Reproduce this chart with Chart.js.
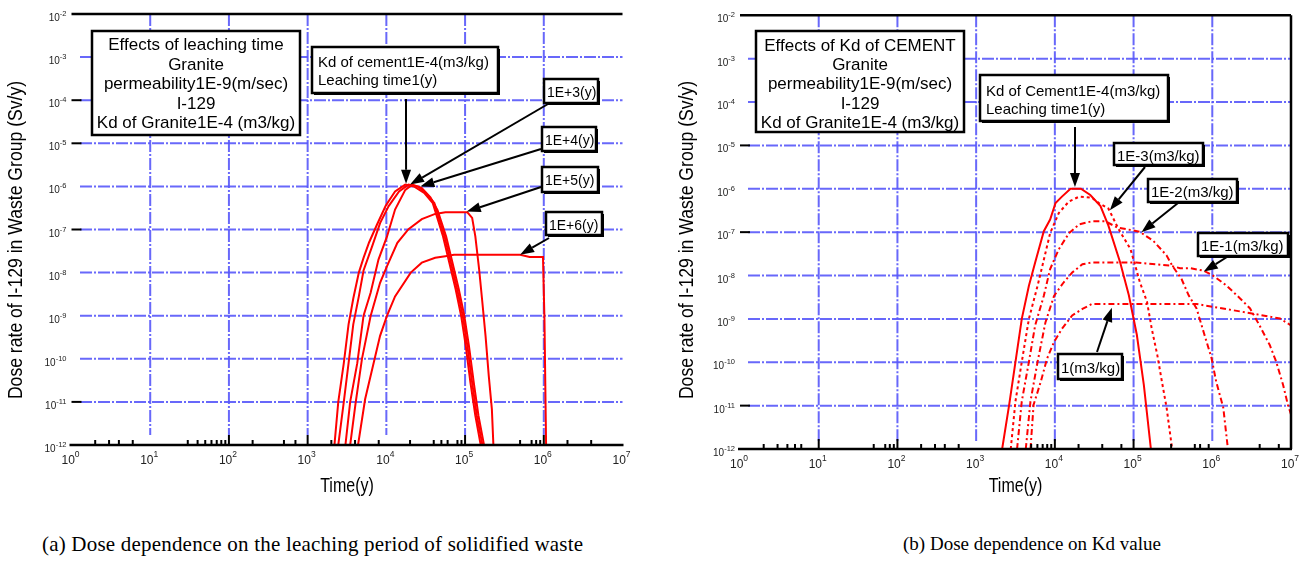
<!DOCTYPE html>
<html>
<head>
<meta charset="utf-8">
<title>Dose rate of I-129</title>
<script src="https://cdn.jsdelivr.net/npm/chart.js@4.4.0/dist/chart.umd.min.js"></script>
<style>
  body { margin: 0; background: #fff; width: 1301px; height: 563px; position: relative; overflow: hidden; }
  canvas { position: absolute; left: 0; top: 0; }
  .cap { position: absolute; top: 532px; font-family: 'Liberation Serif', 'Times New Roman', serif; color: #000; white-space: nowrap; }
</style>
</head>
<body>
<canvas id="chartA" width="1301" height="515"></canvas>
<canvas id="chartB" width="1301" height="515"></canvas>
<div class="cap" style="left:42px; font-size:21px; letter-spacing:0.2px">(a) Dose dependence on the leaching period of solidified waste</div>
<div class="cap" style="left:903px; font-size:19px; top:533px">(b) Dose dependence on Kd value</div>
<script>
  // ---- (a) leaching time, t in years, dose in Sv/y
  const leach1Time = [2190, 2450, 2880, 3310, 3800, 4470, 5130, 6030, 7590, 9770, 12900, 17400, 22400, 30200, 38900, 52500, 63100, 75900, 89100, 102000, 117000, 135000, 158000];
  const leach1Dose = [1e-12, 1e-11, 7.9e-11, 6.3e-10, 2.5e-9, 1.0e-8, 2.2e-8, 5.0e-8, 1.29e-7, 3.5e-7, 7.6e-7, 1.1e-6, 1.0e-6, 7.1e-7, 4.1e-7, 6.9e-8, 1.7e-8, 4.1e-9, 1.0e-9, 2.0e-10, 2.8e-11, 4.8e-12, 1e-12];

  const leach1e3Time = [2450, 2880, 3310, 3800, 4470, 5130, 6610, 8320, 10700, 14500, 19100, 25100, 31600, 40700, 55000, 66100, 79400, 93300, 107000, 123000, 141000, 166000];
  const leach1e3Dose = [1e-12, 1e-11, 7.9e-11, 6.3e-10, 2.8e-9, 1.12e-8, 4.1e-8, 1.41e-7, 3.5e-7, 7.6e-7, 1.1e-6, 1.0e-6, 7.1e-7, 4.1e-7, 6.9e-8, 1.7e-8, 4.1e-9, 1.0e-9, 2.0e-10, 2.8e-11, 4.8e-12, 1e-12];

  const leach1e4Time = [3020, 3470, 4270, 5130, 6310, 7940, 10200, 12900, 17400, 21400, 28200, 36300, 44700, 57500, 69200, 83200, 97700, 112000, 129000, 148000, 174000];
  const leach1e4Dose = [1e-12, 1e-11, 7.9e-11, 1.0e-9, 3.4e-9, 2.0e-8, 6.9e-8, 2.9e-7, 8.3e-7, 1.1e-6, 9.1e-7, 5.6e-7, 2.8e-7, 6.9e-8, 1.7e-8, 4.1e-9, 1.0e-9, 2.0e-10, 2.8e-11, 4.8e-12, 1e-12];

  const leach1e5Time = [3470, 4070, 4900, 6310, 8320, 10200, 13800, 19100, 28200, 41700, 56200, 107000, 123000, 135000, 151000, 166000, 182000, 200000, 219000, 229000];
  const leach1e5Dose = [1e-12, 9.5e-12, 1.0e-10, 9.8e-10, 5.8e-9, 1.41e-8, 4.9e-8, 1.02e-7, 1.74e-7, 2.3e-7, 2.5e-7, 2.5e-7, 1.86e-7, 6.9e-8, 1.17e-8, 2.0e-9, 3.4e-10, 4.0e-11, 6.8e-12, 1e-12];

  const leach1e6Time = [4370, 5370, 8320, 10200, 12900, 20400, 28200, 41700, 56200, 72400, 501000, 661000, 977000, 1020000, 1070000];
  const leach1e6Dose = [1e-12, 1.15e-11, 3.4e-10, 1.0e-9, 2.8e-9, 1.0e-8, 1.7e-8, 2.2e-8, 2.4e-8, 2.6e-8, 2.6e-8, 2.3e-8, 2.3e-8, 8.1e-10, 1e-12];

  // ---- (b) Kd of cement (m3/kg)
  const kd1e4Time = [2140, 2630, 3160, 3800, 4680, 5620, 7240, 8710, 10200, 12300, 15800, 21400, 28200, 38000, 47900, 67600, 87100, 110000, 135000, 166000];
  const kd1e4Dose = [1e-12, 1.05e-11, 1.02e-10, 1.0e-9, 5.8e-9, 2.0e-8, 1.05e-7, 1.95e-7, 4.7e-7, 6.6e-7, 1.0e-6, 1.0e-6, 7.2e-7, 4.0e-7, 1.41e-7, 2.0e-8, 3.5e-9, 4.3e-10, 3.0e-11, 1e-12];

  const kd1e3Time = [2750, 3160, 3800, 4680, 6030, 7240, 8710, 11200, 15100, 20400, 29500, 36300, 47900, 64600, 91200, 105000, 120000, 148000, 170000, 200000, 229000, 263000, 309000];
  const kd1e3Dose = [1e-12, 1.26e-11, 1.02e-10, 1.0e-9, 5.8e-9, 2.3e-8, 9.5e-8, 2.75e-7, 5.1e-7, 6.6e-7, 6.2e-7, 4.7e-7, 3.5e-7, 1.17e-7, 4.1e-8, 1.7e-8, 7.1e-9, 2.5e-9, 6.0e-10, 1.48e-10, 3.6e-11, 8.9e-12, 1e-12];

  const kd1e2Time = [3310, 3800, 4680, 5620, 7240, 8710, 11200, 15100, 20400, 29500, 43700, 61700, 120000, 178000, 263000, 309000, 407000, 501000, 631000, 776000, 977000, 1120000, 1380000, 1580000];
  const kd1e2Dose = [1e-12, 1.26e-11, 1.02e-10, 7.1e-10, 3.4e-9, 1.41e-8, 4.0e-8, 9.5e-8, 1.51e-7, 1.78e-7, 1.78e-7, 1.29e-7, 1.02e-7, 6.3e-8, 2.9e-8, 1.7e-8, 8.3e-9, 3.5e-9, 1.74e-9, 5.0e-10, 1.26e-10, 3.6e-11, 8.9e-12, 1e-12];

  const kd1e1Time = [4270, 4900, 6030, 7590, 9770, 12900, 16600, 22400, 29500, 43700, 107000, 288000, 389000, 525000, 776000, 1020000, 1510000, 2240000, 3020000, 3980000, 5370000, 6460000, 7940000, 9120000, 10000000];
  const kd1e1Dose = [1e-12, 1.26e-11, 1.02e-10, 8.3e-10, 3.4e-9, 6.9e-9, 1.17e-8, 1.82e-8, 2.0e-8, 2.0e-8, 2.0e-8, 1.7e-8, 1.48e-8, 1.48e-8, 1.29e-8, 1.0e-8, 5.9e-9, 3.0e-9, 1.74e-9, 7.1e-10, 2.5e-10, 1.05e-10, 3.0e-11, 1.05e-11, 6.3e-12];

  const kd1Time = [4900, 5370, 6610, 7940, 9770, 12300, 16600, 22400, 29500, 631000, 3310000, 7240000, 10000000];
  const kd1Dose = [1e-12, 1.05e-11, 3.5e-11, 1.2e-10, 2.95e-10, 5.9e-10, 1.2e-9, 1.7e-9, 2.2e-9, 2.2e-9, 1.32e-9, 1.02e-9, 7.1e-10];

  // axis ticks
  const decadesX = [1, 10, 100, 1e3, 1e4, 1e5, 1e6, 1e7];
  const decadesY = [1e-2, 1e-3, 1e-4, 1e-5, 1e-6, 1e-7, 1e-8, 1e-9, 1e-10, 1e-11, 1e-12];
  const minorTicksA = [2, 3, 4, 6, 30, 40, 50, 60, 70, 80, 90, 200, 500, 700, 2000, 4000, 8000, 2e4, 4e4, 5e4, 6e4, 8e4, 9e4, 5e5, 7e5, 8e5, 9e5, 2e6, 4e6];
  const minorTicksB = [2, 3, 4, 5, 6, 50, 70, 80, 90, 200, 300, 400, 600, 5000, 6000, 7000, 8000, 9000, 2e4, 4e4, 7e4, 3e5, 6e5, 7e5, 9e5, 4e6, 7e6];

  const FONT = "'Liberation Sans', Arial, sans-serif";
  const RED = '#ff0000';
  const GRID = 'rgba(88,88,250,0.9)';

  function pts(ts, ds) {
    return ts.map((t, i) => ({ x: t, y: ds[i] }));
  }

  function series(ts, ds, dash) {
    return { data: pts(ts, ds), borderColor: RED, borderWidth: 2, borderDash: dash || [], pointRadius: 0, fill: false, tension: 0 };
  }

  function drawBox(ctx, b) {
    const [x, y, w, h] = b.box;
    if (b.shadow) {
      ctx.fillStyle = '#000';
      ctx.fillRect(x + b.shadow, y + b.shadow, w, h);
    }
    ctx.fillStyle = '#fff';
    ctx.fillRect(x, y, w, h);
    ctx.strokeStyle = '#000';
    ctx.lineWidth = 2.5;
    ctx.setLineDash([]);
    ctx.strokeRect(x, y, w, h);
    ctx.fillStyle = '#000';
    ctx.font = b.size + 'px ' + FONT;
    ctx.textAlign = b.align || 'left';
    ctx.textBaseline = 'alphabetic';
    b.lines.forEach((s, i) => ctx.fillText(s, b.tx, b.ty + i * b.step));
  }

  function drawArrow(ctx, x0, y0, x1, y1) {
    const a = Math.atan2(y1 - y0, x1 - x0), len = 14, w = 5;
    const bx = x1 - len * Math.cos(a), by = y1 - len * Math.sin(a);
    ctx.strokeStyle = '#000';
    ctx.fillStyle = '#000';
    ctx.lineWidth = 2;
    ctx.setLineDash([]);
    ctx.beginPath();
    ctx.moveTo(x0, y0);
    ctx.lineTo(bx, by);
    ctx.stroke();
    ctx.beginPath();
    ctx.moveTo(x1, y1);
    ctx.lineTo(bx - w * Math.sin(a), by + w * Math.cos(a));
    ctx.lineTo(bx + w * Math.sin(a), by - w * Math.cos(a));
    ctx.closePath();
    ctx.fill();
  }

  // "10" with a raised exponent
  function powLabel(ctx, x, y, v, baseSize, supSize, align, dy) {
    const e = String(Math.round(Math.log10(v)));
    ctx.font = baseSize + 'px ' + FONT;
    const w1 = ctx.measureText('10').width;
    ctx.font = supSize + 'px ' + FONT;
    const w2 = ctx.measureText(e).width;
    const x0 = align === 'right' ? x - w1 - w2 : x - (w1 + w2) / 2;
    ctx.textAlign = 'left';
    ctx.textBaseline = 'alphabetic';
    ctx.fillStyle = '#222';
    ctx.font = baseSize + 'px ' + FONT;
    ctx.fillText('10', x0, y);
    ctx.font = supSize + 'px ' + FONT;
    ctx.fillText(e, x0 + w1, y - dy);
  }

  function framePlugin(f) {
    return {
      id: 'frame',
      beforeDatasetsDraw(chart) {
        const { ctx, chartArea: a, scales: { x, y } } = chart;
        ctx.save();
        ctx.strokeStyle = GRID;
        ctx.lineWidth = 2;
        ctx.setLineDash([12, 2, 2, 2]);
        decadesY.slice(1, -1).forEach(v => {
          const py = y.getPixelForValue(v);
          ctx.beginPath(); ctx.moveTo(f.gridStart, py); ctx.lineTo(a.right, py); ctx.stroke();
        });
        decadesX.slice(1, -1).forEach(v => {
          const px = x.getPixelForValue(v);
          ctx.beginPath(); ctx.moveTo(px, a.top); ctx.lineTo(px, f.gridEnd); ctx.stroke();
        });
        ctx.restore();
      },
      afterDatasetsDraw(chart) {
        const { ctx, chartArea: a, scales: { x, y } } = chart;
        ctx.save();
        ctx.setLineDash([]);
        ctx.strokeStyle = '#000';
        ctx.lineWidth = 2.5;
        // frame lines
        ctx.beginPath(); ctx.moveTo(a.left, a.top); ctx.lineTo(a.right, a.top); ctx.stroke();
        ctx.beginPath(); ctx.moveTo(a.left - 2, a.bottom); ctx.lineTo(a.right + 1, a.bottom); ctx.stroke();
        if (f.rightBorder) {
          ctx.beginPath(); ctx.moveTo(a.right, a.top); ctx.lineTo(a.right, a.bottom); ctx.stroke();
        }
        ctx.lineWidth = 2;
        f.blackY.forEach(v => {
          const py = y.getPixelForValue(v);
          ctx.beginPath(); ctx.moveTo(a.left, py); ctx.lineTo(a.left + 10, py); ctx.stroke();
        });
        f.majorX.forEach(v => {
          const px = x.getPixelForValue(v);
          ctx.beginPath(); ctx.moveTo(px, a.bottom); ctx.lineTo(px, a.bottom - 10); ctx.stroke();
        });
        f.minorX.forEach(v => {
          const px = x.getPixelForValue(v);
          ctx.beginPath(); ctx.moveTo(px, a.bottom); ctx.lineTo(px, a.bottom - 5); ctx.stroke();
        });
        // tick labels
        decadesY.forEach(v => powLabel(ctx, a.left - 5, y.getPixelForValue(v) + 7, v, 10, 7.5, 'right', 5));
        decadesX.forEach(v => powLabel(ctx, x.getPixelForValue(v) - 1, a.bottom + 19, v, 12, 8.5, 'center', 7));
        // axis titles
        ctx.fillStyle = '#000';
        ctx.textAlign = 'center';
        ctx.textBaseline = 'alphabetic';
        ctx.font = '20px ' + FONT;
        ctx.save();
        ctx.translate(f.yTitleX, 240);
        ctx.rotate(-Math.PI / 2);
        ctx.scale(0.88, 1);
        ctx.fillText('Dose rate of I-129 in Waste Group (Sv/y)', 0, 0);
        ctx.restore();
        ctx.save();
        ctx.translate((a.left + a.right) / 2, 492);
        ctx.scale(0.8, 1);
        ctx.fillText('Time(y)', 0, 0);
        ctx.restore();
        // notes and arrows
        f.notes.forEach(n => {
          drawBox(ctx, n);
          if (n.to) drawArrow(ctx, n.from[0], n.from[1], x.getPixelForValue(n.to[0]), y.getPixelForValue(n.to[1]));
        });
        ctx.restore();
      }
    };
  }

  function makeChart(id, datasets, area, f) {
    return new Chart(document.getElementById(id), {
      type: 'line',
      data: { datasets },
      options: {
        responsive: false,
        animation: false,
        layout: { padding: { left: area.left, right: 1301 - area.right, top: area.top, bottom: 515 - area.bottom } },
        plugins: { legend: { display: false }, tooltip: { enabled: false } },
        scales: {
          x: { type: 'logarithmic', min: 1, max: 1e7, display: false },
          y: { type: 'logarithmic', min: 1e-12, max: 1e-2, display: false }
        }
      },
      plugins: [framePlugin(f)]
    });
  }

  makeChart('chartA', [
    series(leach1Time, leach1Dose),
    series(leach1e3Time, leach1e3Dose),
    series(leach1e4Time, leach1e4Dose),
    series(leach1e5Time, leach1e5Dose),
    series(leach1e6Time, leach1e6Dose)
  ], { left: 71.5, right: 622.5, top: 14, bottom: 445 }, {
    gridStart: 80, gridEnd: 435, rightBorder: false, yTitleX: 22,
    blackY: [1e-4, 1e-5, 1e-7, 1e-11], majorX: [100, 1e3, 1e5, 1e6], minorX: minorTicksA,
    notes: [
      { box: [92, 31, 208, 104], size: 17, align: 'center', tx: 196, ty: 50, step: 19.5,
        lines: ['Effects of leaching time', 'Granite', 'permeability1E-9(m/sec)', 'I-129', 'Kd of Granite1E-4 (m3/kg)'] },
      { box: [312, 47, 186, 46], size: 15, tx: 318, ty: 66.5, step: 18.5, shadow: 2,
        lines: ['Kd of cement1E-4(m3/kg)', 'Leaching time1(y)'], from: [406, 99], to: [1.78e4, 1.15e-6] },
      { box: [544, 79, 54, 24], size: 14, tx: 547, ty: 96.5, step: 0, shadow: 2,
        lines: ['1E+3(y)'], from: [548, 104], to: [2.0e4, 1.1e-6] },
      { box: [542, 127, 54, 24], size: 14, tx: 545, ty: 144.5, step: 0, shadow: 2,
        lines: ['1E+4(y)'], from: [541, 149], to: [2.7e4, 1.0e-6] },
      { box: [542, 167, 56, 25], size: 14, tx: 545, ty: 184.5, step: 0, shadow: 2,
        lines: ['1E+5(y)'], from: [541, 187], to: [1.05e5, 2.6e-7] },
      { box: [546, 212, 56, 23], size: 14, tx: 549, ty: 229.5, step: 0, shadow: 2,
        lines: ['1E+6(y)'], from: [549, 238], to: [5.0e5, 2.6e-8] }
    ]
  });

  makeChart('chartB', [
    series(kd1e4Time, kd1e4Dose),
    series(kd1e3Time, kd1e3Dose, [3, 3]),
    series(kd1e2Time, kd1e2Dose, [6, 3, 2, 3]),
    series(kd1e1Time, kd1e1Dose, [6, 3, 2, 3]),
    series(kd1Time, kd1Dose, [6, 3, 2, 3])
  ], { left: 740, right: 1291, top: 15.3, bottom: 449 }, {
    gridStart: 748, gridEnd: 441, rightBorder: true, yTitleX: 693,
    blackY: [1e-5, 1e-7, 1e-11], majorX: [10, 100, 1e4, 1e5], minorX: minorTicksB,
    notes: [
      { box: [756, 31, 208, 101], size: 17, align: 'center', tx: 860, ty: 50.5, step: 19.4,
        lines: ['Effects of Kd of CEMENT', 'Granite', 'permeability1E-9(m/sec)', 'I-129', 'Kd of Granite1E-4 (m3/kg)'] },
      { box: [980, 75, 188, 46], size: 15, tx: 986, ty: 96, step: 17.5, shadow: 2,
        lines: ['Kd of Cement1E-4(m3/kg)', 'Leaching time1(y)'], from: [1075, 127], to: [1.8e4, 1.1e-6] },
      { box: [1114, 143, 89, 22], size: 15, tx: 1117, ty: 160.5, step: 0, shadow: 2,
        lines: ['1E-3(m3/kg)'], from: [1145, 167], to: [5.0e4, 3.2e-7] },
      { box: [1148, 179, 89, 23], size: 15, tx: 1151, ty: 196.5, step: 0, shadow: 2,
        lines: ['1E-2(m3/kg)'], from: [1178, 203], to: [1.26e5, 1.0e-7] },
      { box: [1198, 233, 90, 23], size: 15, tx: 1201, ty: 250.5, step: 0, shadow: 2,
        lines: ['1E-1(m3/kg)'], from: [1227, 257], to: [7.8e5, 1.23e-8] },
      { box: [1058, 354, 64, 25], size: 15, tx: 1061, ty: 372.5, step: 0, shadow: 2,
        lines: ['1(m3/kg)'], from: [1097, 352], to: [5.3e4, 1.8e-9] }
    ]
  });
</script>
</body>
</html>
